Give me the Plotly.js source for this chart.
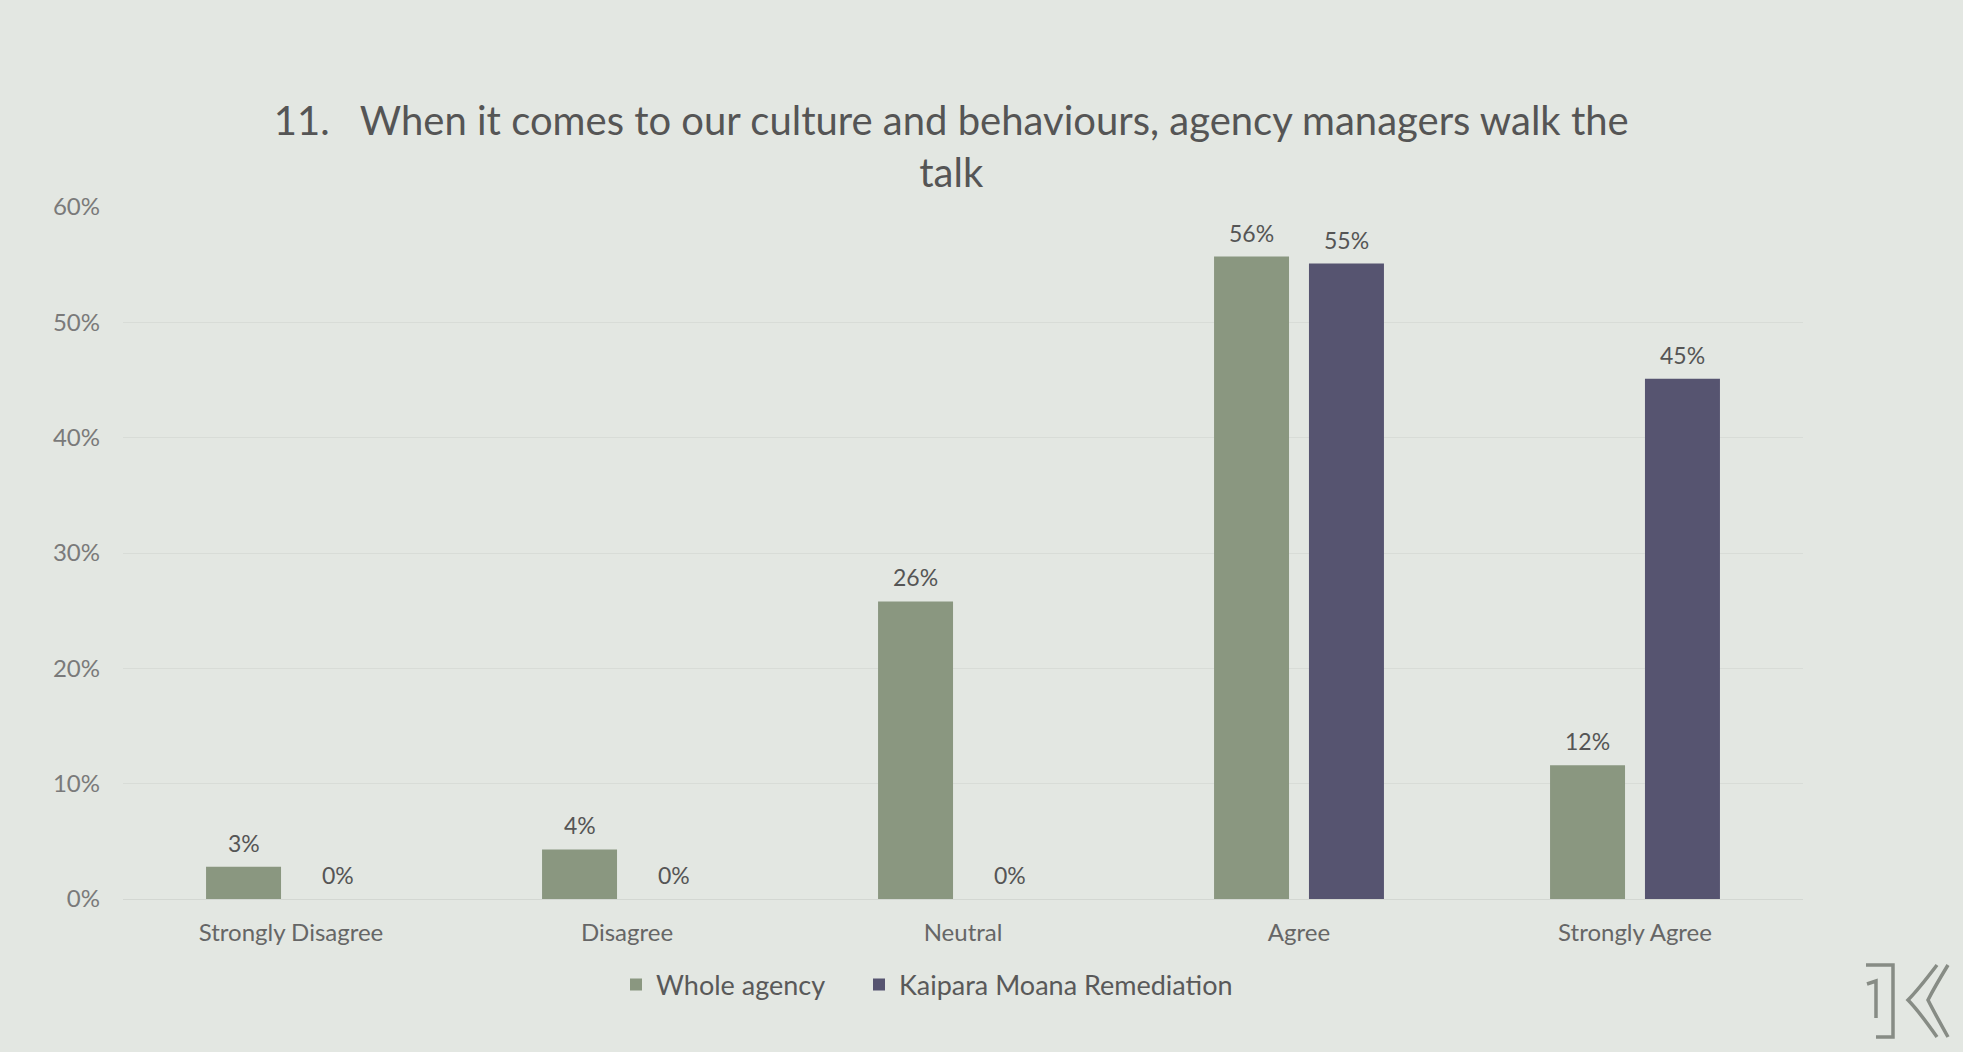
<!DOCTYPE html>
<html>
<head>
<meta charset="utf-8">
<script src="https://cdn.plot.ly/plotly-3.0.1.min.js"></script>
<style>
  html, body { margin: 0; padding: 0; background: #e3e7e2; }
  #chart { width: 1963px; height: 1052px; }
</style>
</head>
<body>
<div id="chart"></div>
<script>
// ---- data ----
const categories = ["Strongly Disagree", "Disagree", "Neutral", "Agree", "Strongly Agree"];
const wholeAgency = [0.028, 0.043, 0.258, 0.557, 0.116];
const kaiparaMoana = [0, 0, 0, 0.551, 0.451];
const wholeAgencyLabels = ["3%", "4%", "26%", "56%", "12%"];
const kaiparaMoanaLabels = ["0%", "0%", "0%", "55%", "45%"];
const seriesNames = ["Whole agency", "Kaipara Moana Remediation"];
const titleText = "11.   When it comes to our culture and behaviours, agency managers walk the<br>talk";
const yTickVals = [0, 0.1, 0.2, 0.3, 0.4, 0.5, 0.6];
const yTickText = ["0%", "10%", "20%", "30%", "40%", "50%", "60%"];

// ---- styles ----
const BG = "#e3e7e2";
const GREEN = "#8a9780";
const PURPLE = "#565470";
const FONT = "Lato, 'Open Sans', sans-serif";

const W = 1963, H = 1052;
const M = {l: 123, r: 160, t: 207, b: 153};
const plotW = W - M.l - M.r, plotH = H - M.t - M.b;
const px = x => (x - M.l) / plotW;
const py = y => (H - M.b - y) / plotH;

const traces = [
  {type: "bar", name: seriesNames[0], x: categories, y: wholeAgency,
   marker: {color: GREEN}, hoverinfo: "skip", legend: "legend"},
  {type: "bar", name: seriesNames[1], x: categories, y: kaiparaMoana,
   marker: {color: PURPLE}, hoverinfo: "skip", legend: "legend2"}
];

const annotations = [];
const slotShift = plotW / categories.length * (1 - 0.435) / 4;
categories.forEach((c, i) => {
  annotations.push({x: c, y: wholeAgency[i], xref: "x", yref: "y", text: wholeAgencyLabels[i],
    showarrow: false, xshift: -slotShift, yshift: 24, yanchor: "middle",
    font: {family: FONT, size: 23, color: "#555555"}});
  annotations.push({x: c, y: kaiparaMoana[i], xref: "x", yref: "y", text: kaiparaMoanaLabels[i],
    showarrow: false, xshift: slotShift, yshift: 24, yanchor: "middle",
    font: {family: FONT, size: 23, color: "#555555"}});
});

// decorative logo (bottom right)
const P = (x, y) => px(x).toFixed(5) + "," + py(y).toFixed(5);
const logoColor = "#878c85";
const logoPaths = [
  "M" + P(1866, 965) + " L" + P(1893, 965) + " L" + P(1893, 1037) + " L" + P(1876, 1037),
  "M" + P(1867, 984) + " L" + P(1876, 981) + " L" + P(1876, 1018),
  "M" + P(1937, 965) + " Q" + P(1918, 990) + " " + P(1908, 1000) + " Q" + P(1918, 1010) + " " + P(1937, 1037),
  "M" + P(1948, 965) + " Q" + P(1934, 988) + " " + P(1928, 1000) + " Q" + P(1934, 1012) + " " + P(1948, 1037)
];
const shapes = logoPaths.map(p => ({type: "path", xref: "paper", yref: "paper", path: p,
  line: {color: logoColor, width: 3.5}}));

const legendBase = {orientation: "h", xanchor: "left", y: py(985), yanchor: "middle",
  font: {family: FONT, size: 27, color: "#595959"}, bgcolor: "rgba(0,0,0,0)", itemwidth: 30};

const layout = {
  width: W, height: H,
  paper_bgcolor: BG, plot_bgcolor: BG,
  margin: M,
  font: {family: FONT, color: "#595959"},
  title: {text: titleText, x: 0.493, xanchor: "center", xref: "paper",
    y: 1 - 135 / H, yanchor: "middle",
    font: {family: FONT, size: 40, color: "#555555"}},
  barmode: "group", bargap: 0.435, bargroupgap: 0.21,
  xaxis: {type: "category", showgrid: false, showline: true, linecolor: "#d3d7d2", linewidth: 1,
    ticks: "", tickfont: {family: FONT, size: 24, color: "#666666"}, ticklabelstandoff: 12,
    zeroline: false},
  yaxis: {range: [0, 0.6], tickvals: yTickVals, ticktext: yTickText,
    showgrid: true, gridcolor: "#d8dcd7", gridwidth: 1, zeroline: false, showline: false,
    ticks: "", tickfont: {family: FONT, size: 24, color: "#7a7a7a"}, ticklabelstandoff: 22},
  showlegend: true,
  legend: Object.assign({}, legendBase, {x: px(616)}),
  legend2: Object.assign({}, legendBase, {x: px(859)}),
  annotations: annotations,
  shapes: shapes
};

Plotly.newPlot("chart", traces, layout, {displayModeBar: false, staticPlot: true});
</script>
</body>
</html>
